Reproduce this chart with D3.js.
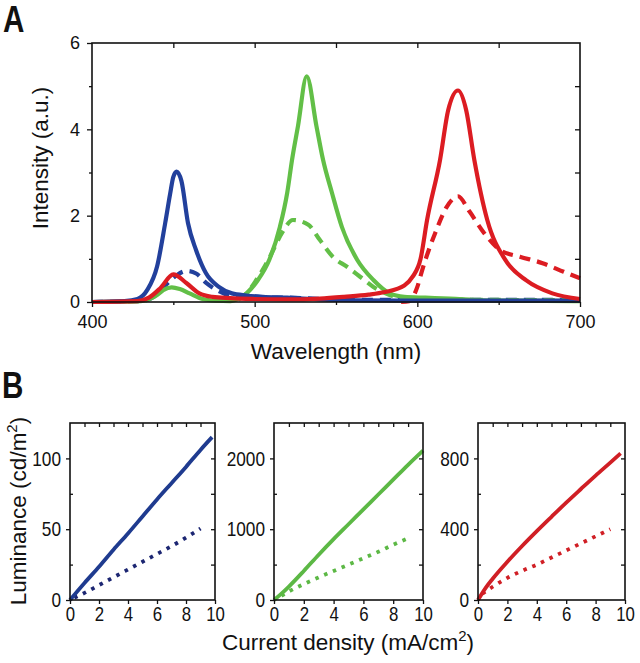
<!DOCTYPE html>
<html>
<head>
<meta charset="utf-8">
<script src="https://cdn.jsdelivr.net/npm/d3@7"></script>
<style>
  html, body { margin: 0; padding: 0; background: #fff; }
  svg { display: block; }
  text { font-family: "Liberation Sans", Arial, sans-serif; fill: #111; }
</style>
</head>
<body>
<svg id="chart" width="640" height="663"></svg>
<script>
// ---------------- Panel A data: emission spectra ----------------
const blueSolidWl = [400, 420, 428, 434, 440, 445, 448, 450, 452, 455, 459, 464, 470, 478, 486, 495, 505, 520, 540, 560, 600, 650, 700];
const blueSolidI  = [0, 0.02, 0.07, 0.28, 0.82, 1.83, 2.5, 2.9, 3.02, 2.8, 1.83, 1.2, 0.67, 0.35, 0.2, 0.15, 0.12, 0.1, 0.06, 0.04, 0.03, 0.03, 0.03];

const blueDashWl = [400, 430, 438, 445, 452, 458, 464, 470, 478, 487, 500, 520, 540, 580, 620, 660, 700];
const blueDashI  = [0, 0.02, 0.12, 0.38, 0.62, 0.72, 0.66, 0.45, 0.25, 0.13, 0.1, 0.1, 0.07, 0.05, 0.05, 0.05, 0.05];

const redSolidWl = [400, 428, 435, 442, 450, 458, 466, 474, 485, 500, 520, 540, 555, 570, 580, 592, 597, 602, 606, 614, 619, 625, 630, 635, 643, 654, 667, 683, 700];
const redSolidI  = [0, 0.02, 0.1, 0.32, 0.64, 0.44, 0.2, 0.12, 0.09, 0.07, 0.06, 0.08, 0.12, 0.17, 0.23, 0.38, 0.58, 1.0, 1.9, 3.3, 4.45, 4.9, 4.45, 3.3, 1.9, 0.98, 0.5, 0.2, 0.07];

const redDashWl = [590, 595, 600, 603, 607, 611, 618, 625, 632, 641, 651, 663, 677, 690, 700];
const redDashI  = [0, 0.02, 0.35, 0.74, 1.2, 1.6, 2.2, 2.45, 2.1, 1.6, 1.2, 1.05, 0.9, 0.7, 0.55];

const greenSolidWl = [400, 430, 436, 440, 444, 449, 454, 460, 468, 476, 485, 490, 495, 502, 509, 515.5, 520, 523, 526.6, 532, 538, 542, 547.5, 553.6, 563, 573, 583, 592, 605, 620, 640, 660, 700];
const greenSolidI  = [0, 0.02, 0.08, 0.16, 0.28, 0.34, 0.3, 0.2, 0.07, 0.03, 0.02, 0.08, 0.2, 0.51, 0.98, 1.74, 2.53, 3.3, 4.07, 5.23, 4.07, 3.3, 2.53, 1.74, 0.98, 0.51, 0.2, 0.12, 0.1, 0.08, 0.04, 0.03, 0.02];

const greenDashWl = [490, 495, 501, 505, 509.4, 516.8, 523.5, 533, 540, 548, 557, 565, 573, 583, 592, 610, 640, 700];
const greenDashI  = [0.05, 0.2, 0.51, 0.75, 1.05, 1.6, 1.9, 1.79, 1.44, 1.05, 0.81, 0.58, 0.35, 0.16, 0.08, 0.06, 0.05, 0.04];

const wlTicks = [400, 500, 600, 700];
const intensityTicks = [0, 2, 4, 6];

// ---------------- Panel B data: luminance vs current density ----------------
const blueJ = [0, 1, 2, 3, 4, 5, 6, 7, 8, 9, 9.8];
const blueL = [0, 12, 23.5, 35.5, 47, 59, 71, 82.5, 94, 106, 115];
const blueDotJ = [0.3, 1, 2, 3, 4, 5, 6, 7, 8, 9];
const blueDotL = [1.5, 5, 10.5, 16, 21.5, 27, 32.5, 38, 44, 50.5];

const greenJ = [0, 0.5, 1, 2, 3, 4, 5, 6, 7, 8, 9, 10];
const greenL = [0, 90, 190, 410, 640, 860, 1070, 1280, 1490, 1700, 1910, 2110];
const greenDotJ = [0.5, 1, 2, 3, 4, 5, 6, 7, 8, 9.1];
const greenDotL = [60, 120, 225, 320, 410, 500, 590, 680, 780, 880];

const redJ = [0, 0.5, 1, 2, 3, 4, 5, 6, 7, 8, 9, 9.7];
const redL = [0, 66, 120, 216, 305, 389, 470, 550, 627, 703, 776, 828];
const redDotJ = [0.3, 1, 2, 3, 4, 5, 6, 7, 8, 9];
const redDotL = [35, 75, 125, 165, 200, 240, 280, 320, 360, 400];

const jTicks = [0, 2, 4, 6, 8, 10];
const blueLTicks = [0, 50, 100];
const greenLTicks = [0, 1000, 2000];
const redLTicks = [0, 400, 800];

// ---------------- colours ----------------
const C_BLUE = "#22409c", C_GREEN = "#62bf47", C_RED = "#dc1c22";
const C_BLUE_B = "#1f3b8f", C_BLUE_DOT = "#1c2672", C_GREEN_B = "#5cb845", C_RED_B = "#d01f25";

const svg = d3.select("#chart");
const zip = (a, b) => a.map((v, i) => [v, b[i]]);

// ======================= Panel A =======================
const xA = d3.scaleLinear().domain([400, 700]).range([92, 580]);
const yA = d3.scaleLinear().domain([0, 6]).range([302, 43]);
const gA = svg.append("g");

const lineA = d3.line().x(d => xA(d[0])).y(d => yA(d[1])).curve(d3.curveMonotoneX);
const spectra = [
  { wl: blueDashWl, I: blueDashI, c: C_BLUE, dash: "11,7" },
  { wl: greenDashWl, I: greenDashI, c: C_GREEN, dash: "11,7" },
  { wl: redDashWl, I: redDashI, c: C_RED, dash: "11,7" },
  { wl: greenSolidWl, I: greenSolidI, c: C_GREEN, dash: null },
  { wl: blueSolidWl, I: blueSolidI, c: C_BLUE, dash: null },
  { wl: redSolidWl, I: redSolidI, c: C_RED, dash: null }
];
spectra.forEach(s => {
  gA.append("path").datum(zip(s.wl, s.I))
    .attr("d", lineA).attr("fill", "none").attr("stroke", s.c)
    .attr("stroke-width", 4.2).attr("stroke-linejoin", "round")
    .attr("stroke-dasharray", s.dash);
});

function styleAxis(g, fs, sx) {
  g.select(".domain").remove();
  g.selectAll(".tick line").attr("stroke", "#111").attr("stroke-width", 1.3);
  g.selectAll(".tick text").attr("font-size", fs).attr("fill", "#111");
  if (sx) g.selectAll(".tick text").attr("transform", `scale(${sx},1)`);
  return g;
}

// bottom
gA.append("g").attr("transform", "translate(0,302)")
  .call(d3.axisBottom(xA).tickValues(wlTicks).tickSize(5).tickPadding(8).tickFormat(d3.format("d")))
  .call(g => styleAxis(g, 18));
gA.append("g").attr("transform", "translate(0,302)")
  .call(d3.axisBottom(xA).tickValues([450, 550, 650]).tickSize(3).tickFormat(""))
  .call(g => styleAxis(g, 18));
// top (inward)
gA.append("g").attr("transform", "translate(0,43)")
  .call(d3.axisTop(xA).tickValues([450, 500, 550, 600, 650]).tickSize(-5).tickFormat(""))
  .call(g => styleAxis(g, 18));
// left
gA.append("g").attr("transform", "translate(92,0)")
  .call(d3.axisLeft(yA).tickValues(intensityTicks).tickSize(5).tickPadding(7).tickFormat(d3.format("d")))
  .call(g => styleAxis(g, 18));
gA.append("g").attr("transform", "translate(92,0)")
  .call(d3.axisLeft(yA).tickValues([1, 3, 5]).tickSize(3).tickFormat(""))
  .call(g => styleAxis(g, 18));
// right (inward)
gA.append("g").attr("transform", "translate(580,0)")
  .call(d3.axisRight(yA).tickValues([1, 2, 3, 4, 5]).tickSize(-5).tickFormat(""))
  .call(g => styleAxis(g, 18));
// frame
gA.append("rect").attr("x", 92).attr("y", 43).attr("width", 488).attr("height", 259)
  .attr("fill", "none").attr("stroke", "#111").attr("stroke-width", 1.6);

gA.append("text").attr("x", 336).attr("y", 359).attr("text-anchor", "middle")
  .attr("font-size", 22.5).text("Wavelength (nm)");
gA.append("text").attr("transform", "translate(48,158) rotate(-90)").attr("text-anchor", "middle")
  .attr("font-size", 22.5).text("Intensity (a.u.)");
svg.append("text").attr("transform", "translate(3,32) scale(0.8,1)")
  .attr("font-size", 37).attr("font-weight", "bold").text("A");

// ======================= Panel B =======================
svg.append("text").attr("transform", "translate(2,398) scale(0.8,1)")
  .attr("font-size", 37).attr("font-weight", "bold").text("B");

const panelsB = [
  { x0: 70, x1: 215, ymax: 125, ticks: blueLTicks, minor: [25, 75], solid: [blueJ, blueL], dot: [blueDotJ, blueDotL], c: C_BLUE_B, cd: C_BLUE_DOT },
  { x0: 274, x1: 423, ymax: 2500, ticks: greenLTicks, minor: [500, 1500], solid: [greenJ, greenL], dot: [greenDotJ, greenDotL], c: C_GREEN_B, cd: C_GREEN_B },
  { x0: 478, x1: 625, ymax: 1000, ticks: redLTicks, minor: [200, 600], solid: [redJ, redL], dot: [redDotJ, redDotL], c: C_RED_B, cd: C_RED_B }
];
const yTopB = 423, yBotB = 600;

panelsB.forEach(p => {
  const x = d3.scaleLinear().domain([0, 10]).range([p.x0, p.x1]);
  const y = d3.scaleLinear().domain([0, p.ymax]).range([yBotB, yTopB]);
  const g = svg.append("g");
  const line = d3.line().x(d => x(d[0])).y(d => y(d[1])).curve(d3.curveMonotoneX);
  g.append("path").datum(zip(p.dot[0], p.dot[1])).attr("d", line)
    .attr("fill", "none").attr("stroke", p.cd).attr("stroke-width", 3.8)
    .attr("stroke-dasharray", "3.5,6");
  g.append("path").datum(zip(p.solid[0], p.solid[1])).attr("d", line)
    .attr("fill", "none").attr("stroke", p.c).attr("stroke-width", 3.8).attr("stroke-linejoin", "round");

  g.append("g").attr("transform", `translate(0,${yBotB})`)
    .call(d3.axisBottom(x).tickValues(jTicks).tickSize(4).tickPadding(2).tickFormat(d3.format("d")))
    .call(a => styleAxis(a, 21, 0.8));
  g.append("g").attr("transform", `translate(0,${yTopB})`)
    .call(d3.axisTop(x).tickValues(d3.range(1, 10)).tickSize(-4).tickFormat(""))
    .call(a => styleAxis(a, 21));
  g.append("g").attr("transform", `translate(${p.x0},0)`)
    .call(d3.axisLeft(y).tickValues(p.ticks).tickSize(4).tickPadding(7).tickFormat(d3.format("d")))
    .call(a => styleAxis(a, 21, 0.82));
  g.append("g").attr("transform", `translate(${p.x0},0)`)
    .call(d3.axisLeft(y).tickValues(p.minor).tickSize(-3).tickFormat(""))
    .call(a => styleAxis(a, 21));
  g.append("g").attr("transform", `translate(${p.x1},0)`)
    .call(d3.axisRight(y).tickValues(p.minor.concat(p.ticks.slice(1))).tickSize(-4).tickFormat(""))
    .call(a => styleAxis(a, 21));
  g.append("rect").attr("x", p.x0).attr("y", yTopB).attr("width", p.x1 - p.x0).attr("height", yBotB - yTopB)
    .attr("fill", "none").attr("stroke", "#111").attr("stroke-width", 1.6);
});

// axis titles for B
const tx = svg.append("text").attr("x", 348).attr("y", 650).attr("text-anchor", "middle").attr("font-size", 22.5);
tx.append("tspan").text("Current density (mA/cm");
tx.append("tspan").attr("font-size", 15).attr("dy", -9).text("2");
tx.append("tspan").attr("dy", 9).text(")");

const ty = svg.append("text").attr("transform", "translate(26,511) rotate(-90)").attr("text-anchor", "middle").attr("font-size", 22.5);
ty.append("tspan").text("Luminance (cd/m");
ty.append("tspan").attr("font-size", 15).attr("dy", -9).text("2");
ty.append("tspan").attr("dy", 9).text(")");
</script>
</body>
</html>
